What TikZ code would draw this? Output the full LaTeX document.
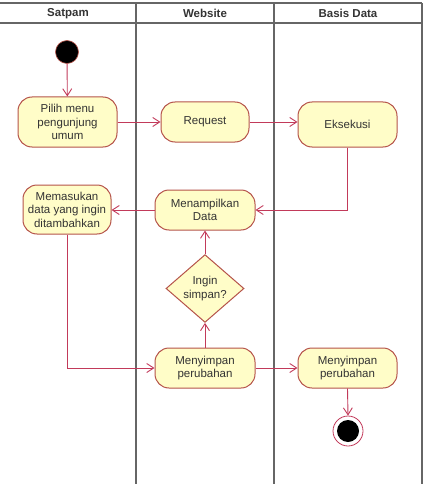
\documentclass[tikz,border=0pt]{standalone}
\usepackage{fontspec}
\setmainfont{Liberation Sans}
\usetikzlibrary{arrows.meta,shapes.geometric}
\definecolor{flowred}{HTML}{C23A5A}
\definecolor{boxedge}{HTML}{B5534A}
\definecolor{umlfill}{HTML}{FFFDC8}
\definecolor{lanegray}{HTML}{666666}
\definecolor{txt}{HTML}{333333}
\tikzset{
  lane/.style={draw=lanegray, line width=1.3pt},
  act/.style={draw=boxedge, fill=umlfill, line width=1pt, rounded corners=14pt,
    inner sep=0pt, align=center, text=txt,
    font=\fontsize{11.5}{13.6}\selectfont},
  decide/.style={diamond, draw=boxedge, fill=umlfill, line width=1pt, inner sep=0pt,
    align=center, text=txt, font=\fontsize{11.5}{13.6}\selectfont},
  flow/.style={draw=flowred, line width=0.9pt,
    -{Straight Barb[length=7pt,width=9pt,line width=0.9pt]}},
  head/.style={font=\fontsize{11.5}{13.6}\selectfont\bfseries, text=txt},
}
\begin{document}
\begin{tikzpicture}[x=1pt,y=-1pt]
\useasboundingbox (0,0) rectangle (424,484);
% swimlane frame
\draw[lane] (0,3) -- (422,3);
\draw[lane] (0,23) -- (422,23);
\draw[lane] (136,3) -- (136,484);
\draw[lane] (274,3) -- (274,484);
\draw[lane] (422,3) -- (422,484);
\node[head] (hSatpam) at (68,13.5) {Satpam};
\node[head] (hWeb) at (205,13.5) {Website};
\node[head] (hDb) at (348,13.5) {Basis Data};

% activities
\node[circle, fill=black, draw=boxedge, line width=0.6pt, minimum size=23pt, inner sep=0pt] (start) at (67,52) {};
\node[act, minimum width=99pt, minimum height=50pt] (pilih) at (67.5,122) {Pilih menu\\pengunjung\\umum};
\node[act, minimum width=88pt, minimum height=40pt] (req) at (205,122) {Request};
\node[act, minimum width=99pt, minimum height=45pt] (eks) at (347.5,124.5) {Eksekusi};
\node[act, minimum width=100pt, minimum height=40pt] (tampil) at (205,210) {Menampilkan\\Data};
\node[act, minimum width=88pt, minimum height=49pt] (masuk) at (67,209.5) {Memasukan\\data yang ingin\\ditambahkan};
\node[decide, minimum width=78pt, minimum height=57pt] (ingin) at (205,288.5) {Ingin\\simpan?};
\node[act, minimum width=100pt, minimum height=40pt] (simpanW) at (205,368) {Menyimpan\\perubahan};
\node[act, minimum width=99pt, minimum height=40pt] (simpanD) at (347.5,368) {Menyimpan\\perubahan};
\node[circle, draw=flowred, fill=white, line width=0.8pt, minimum size=30pt, inner sep=0pt] (stop) at (348,431) {};
\node[circle, fill=black, minimum size=22pt, inner sep=0pt] (stopdot) at (stop.center) {};

% control flow
\draw[flow] (start) -- (pilih);
\draw[flow] (pilih.east) -- (req.west);
\draw[flow] (req.east) -- (req.east -| eks.west);
\draw[flow] (eks.south) |- (tampil.east);
\draw[flow] (tampil.west) -- (tampil.west -| masuk.east);
\draw[flow] (masuk.south) |- (simpanW.west);
\draw[flow] (simpanW.north) -- (ingin.south);
\draw[flow] (ingin.north) -- (tampil.south);
\draw[flow] (simpanW.east) -- (simpanD.west);
\draw[flow] (simpanD.south) -- (stop.north);
\end{tikzpicture}
\end{document}
